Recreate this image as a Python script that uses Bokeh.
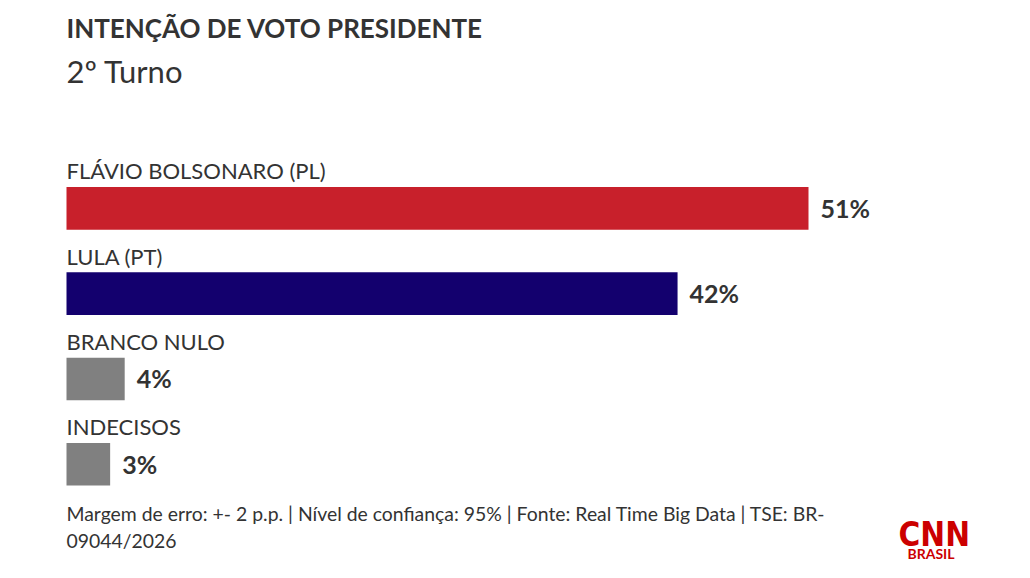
from bokeh.plotting import figure
from bokeh.models import ColumnDataSource, Range1d
from bokeh.core.properties import value
from bokeh.embed import file_html
from bokeh.resources import INLINE

candidates = ["FLÁVIO BOLSONARO (PL)", "LULA (PT)", "BRANCO NULO", "INDECISOS"]
values = [51, 42, 4, 3]
colors = ["#C8202B", "#13006E", "#808080", "#808080"]
value_labels = [f"{v}%" for v in values]
positions = list(range(len(candidates)))

title = "INTENÇÃO DE VOTO PRESIDENTE"
subtitle = "2º Turno"
footer1 = "Margem de erro: +- 2 p.p. | Nível de confiança: 95% | Fonte: Real Time Big Data | TSE: BR-"
footer2 = "09044/2026"

FONT = "Lato"
TXT = "#333333"

W, H = 1030, 578
x0_px = 66
px_per_unit = 742 / 51
y0_px = 207.8
band_px = 85.33
FIX = -10  # baseline correction in px

p = figure(width=W, height=H, output_backend="svg", toolbar_location=None,
           x_range=Range1d(-x0_px / px_per_unit, (W - x0_px) / px_per_unit),
           y_range=Range1d((H - y0_px) / band_px, -y0_px / band_px),
           min_border=0)
p.axis.visible = False
p.grid.visible = False
p.outline_line_color = None
p.background_fill_color = "white"
p.border_fill_color = "white"

src = ColumnDataSource(dict(pos=positions, cat=candidates, val=values, col=colors,
                            lab=value_labels, zero=[0] * len(values)))
p.hbar(y="pos", left=0, right="val", height=0.5, fill_color="col", line_color=None, source=src)

p.text(x="zero", y="pos", text="cat", source=src, y_offset=-27.5 + FIX, text_baseline="alphabetic",
       text_font=value(FONT), text_font_size="22px", text_color=TXT)
p.text(x="val", y="pos", text="lab", source=src, x_offset=12, y_offset=9.5 + FIX,
       text_baseline="alphabetic", text_font=value(FONT), text_font_size="25px",
       text_font_style="bold", text_color=TXT)


def lab(txt, x, y, size, style="normal", color=TXT, font=FONT):
    p.text(x=[(x - x0_px) / px_per_unit], y=[(y - y0_px) / band_px], text=[txt],
           y_offset=FIX, text_baseline="alphabetic", text_font=value(font),
           text_font_size=size, text_font_style=style, text_color=color)


lab(title, 66, 37, "26px", "bold")
lab(subtitle, 66, 80, "31px")
lab(footer1, 66, 523, "19.4px")
lab(footer2, 66, 550, "19.4px")
lab("CNN", 898, 544, "33px", "bold", "#CC0000", "DejaVu Sans Condensed")
lab("BRASIL", 907, 563, "14px", "bold", "#CC0000")

open("out.html", "w").write(file_html(p, INLINE))
